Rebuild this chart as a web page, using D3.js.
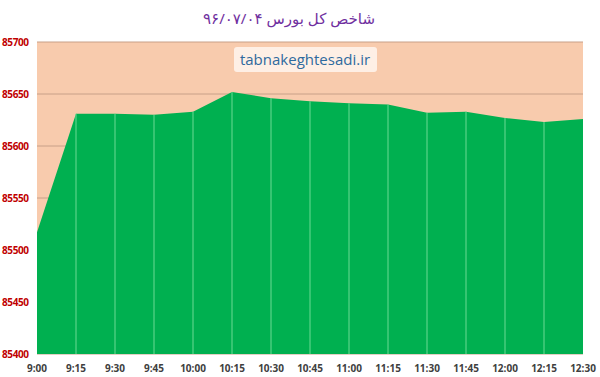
<!DOCTYPE html>
<html><head><meta charset="utf-8">
<script src="https://cdn.jsdelivr.net/npm/d3@7"></script>
<style>body{margin:0;background:#fff;}svg{display:block;}</style>
</head><body>
<script>
const times = ["9:00","9:15","9:30","9:45","10:00","10:15","10:30","10:45","11:00","11:15","11:30","11:45","12:00","12:15","12:30"];
const values = [85517,85631,85631,85630,85633,85652,85646,85643,85641,85640,85632,85633,85627,85623,85626];
const yTicks = [85400,85450,85500,85550,85600,85650,85700];
const title = "شاخص کل بورس ۹۶/۰۷/۰۴";
const watermark = "tabnakeghtesadi.ir";

const W = 600, H = 377;
const m = {left:37, right:17, top:42, bottom:23};
const svg = d3.select("body").append("svg").attr("width",W).attr("height",H);

const x = d3.scalePoint().domain(times).range([m.left, W-m.right]);
const y = d3.scaleLinear().domain([85400,85700]).range([H-m.bottom, m.top]);

svg.append("rect").attr("x",m.left).attr("y",m.top)
  .attr("width",W-m.right-m.left).attr("height",H-m.bottom-m.top)
  .attr("fill","#F8CBAD");

svg.append("g").selectAll("line").data(yTicks).join("line")
  .attr("x1",m.left).attr("x2",W-m.right)
  .attr("y1",d=>y(d)).attr("y2",d=>y(d))
  .attr("stroke","#C8A088").attr("stroke-width",1);

const area = d3.area().x((d,i)=>x(times[i])).y0(y(85400)).y1(d=>y(d));
svg.append("path").datum(values).attr("d",area).attr("fill","#00B050");

svg.append("g").selectAll("line").data(values.slice(1,-1)).join("line")
  .attr("x1",(d,i)=>x(times[i+1])).attr("x2",(d,i)=>x(times[i+1]))
  .attr("y1",d=>y(d)).attr("y2",y(85400))
  .attr("stroke","#6BDA93").attr("stroke-width",1);

svg.append("g").selectAll("text").data(yTicks).join("text")
  .attr("x",2).attr("y",d=>y(d)+4)
  .attr("font-family","Open Sans, Liberation Sans, sans-serif")
  .attr("font-size",10).attr("font-weight","bold").attr("fill","#C00000")
  .attr("letter-spacing",-0.4)
  .text(d=>d);

svg.append("g").selectAll("text").data(times).join("text")
  .attr("x",d=>x(d)).attr("y",372).attr("text-anchor","middle")
  .attr("font-family","Open Sans, Liberation Sans, sans-serif")
  .attr("font-size",10).attr("font-weight","bold").attr("fill","#404040")
  .text(d=>d);

svg.append("text").attr("x",289).attr("y",24).attr("text-anchor","middle")
  .attr("direction","rtl")
  .attr("font-family","Noto Sans, DejaVu Sans, sans-serif")
  .attr("font-size",15).attr("font-weight","normal").attr("fill","#7030A0")
  .text(title);

const wg = svg.append("g");
wg.append("rect").attr("x",234).attr("y",47).attr("width",143).attr("height",25)
  .attr("fill","#FFF6EE").attr("opacity",0.85).attr("rx",3);
wg.append("text").attr("x",305).attr("y",65).attr("text-anchor","middle")
  .attr("font-family","Open Sans, Liberation Sans, sans-serif")
  .attr("font-size",15).attr("fill","#2F6A9E")
  .text(watermark);
</script>
</body></html>
